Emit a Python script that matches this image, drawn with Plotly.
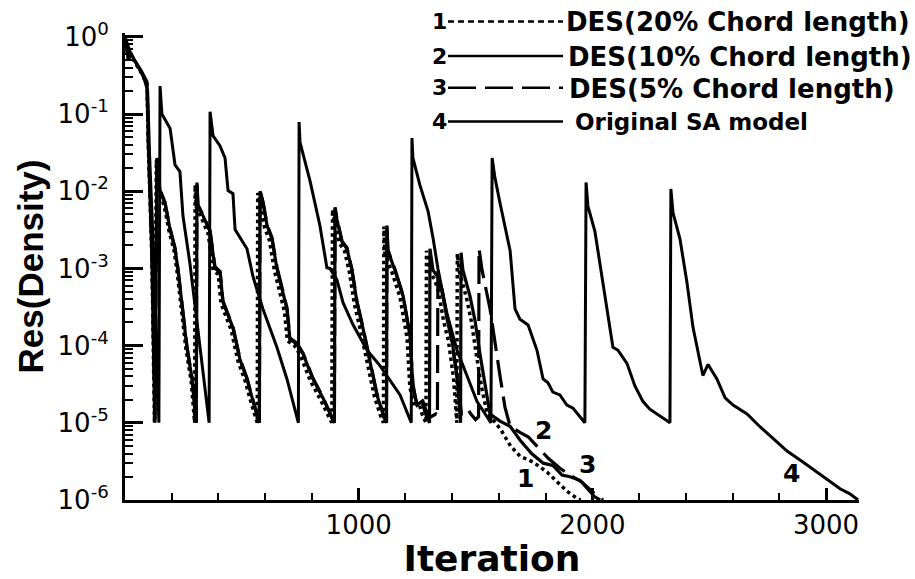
import plotly.graph_objects as go
import numpy as np

# ---------------- data (iteration, residual) ----------------
SA_POINTS = [
    (0, 1.0), (10, 0.8), (25, 0.6), (50, 0.45), (80, 0.3), (97, 0.2), (105, 0.03), (125, 1e-3), (145, 1e-5),
    (150, 0.23), (158, 0.1), (193, 0.065), (214, 0.022), (235, 0.018), (248, 4.8e-3), (278, 1.15e-3),
    (308, 2.1e-4), (334, 4.9e-5), (360, 1e-5),
    (364, 0.107), (377, 0.052), (406, 0.039), (428, 0.027), (441, 0.0102), (462, 9.3e-3), (471, 3.2e-3),
    (492, 2.5e-3), (522, 1.8e-3), (548, 7.8e-4), (590, 3e-4), (650, 9.5e-5), (693, 3.7e-5), (742, 1e-5),
    (745, 0.079), (749, 0.043), (792, 0.0135), (834, 3.6e-3), (864, 1.02e-3), (877, 1.0e-3), (907, 7.1e-4),
    (933, 3.6e-4), (976, 1.86e-4), (1036, 8.7e-5), (1091, 5.5e-5), (1177, 2.3e-5), (1225, 1e-5),
    (1228, 0.049), (1232, 0.027), (1262, 0.012), (1297, 5.5e-3), (1318, 2.5e-3), (1339, 1.0e-3),
    (1357, 5.3e-4), (1378, 2.6e-4), (1421, 8.7e-5), (1463, 4e-5), (1506, 1.9e-5), (1549, 1.2e-5), (1566, 1e-5),
    (1571, 0.027), (1583, 0.015), (1605, 7e-3), (1635, 2.7e-3), (1648, 1.7e-3), (1669, 3e-4), (1690, 2.2e-4),
    (1725, 1.85e-4), (1763, 8.7e-5), (1789, 3.7e-5), (1810, 3.3e-5), (1831, 2.5e-5), (1861, 2.3e-5),
    (1891, 1.7e-5), (1917, 1.55e-5), (1947, 1.2e-5), (1968, 1e-5),
    (1973, 0.013), (1981, 6.4e-3), (2011, 3e-3), (2041, 7.7e-4), (2067, 2.5e-4), (2088, 9.5e-5), (2110, 8.7e-5),
    (2148, 5.9e-5), (2182, 3e-5), (2216, 1.9e-5), (2246, 1.5e-5), (2276, 1.3e-5), (2298, 1.2e-5), (2332, 1e-5),
    (2336, 0.0107), (2345, 5.3e-3), (2375, 2.4e-3), (2405, 6.5e-4), (2431, 1.7e-4), (2461, 5.9e-5),
    (2473, 4.1e-5), (2495, 5.7e-5), (2533, 3.7e-5), (2568, 2.1e-5), (2602, 1.7e-5), (2662, 1.3e-5),
    (2717, 8.9e-6), (2773, 6.3e-6), (2833, 4.3e-6), (2901, 3.1e-6), (2961, 2.3e-6), (3017, 1.7e-6),
    (3060, 1.4e-6), (3102, 1.2e-6), (3137, 1.0e-6),
]

DES10_POINTS = [
    (0, 1.0), (8, 0.7), (15, 0.5), (25, 0.62), (40, 0.5), (70, 0.35), (94, 0.25), (100, 0.04), (115, 1.5e-3), (128, 1e-5),
    (137, 0.026), (150, 0.0102), (171, 7e-3), (193, 3.2e-3), (214, 1.8e-3), (227, 9.5e-4), (244, 3.6e-4),
    (265, 9.5e-5), (287, 3.7e-5), (305, 1e-5),
    (308, 0.013), (312, 6.5e-3), (334, 4.8e-3), (364, 3e-3), (385, 1.0e-3), (407, 8.9e-4), (419, 3.7e-4),
    (441, 2.5e-4), (462, 1.7e-4), (492, 6.6e-5), (522, 3.7e-5), (548, 1.9e-5), (575, 1e-5),
    (578, 0.01), (591, 7e-3), (608, 3.6e-3), (629, 2.4e-3), (650, 1.0e-3), (672, 5.3e-4), (693, 3e-4),
    (706, 1.2e-4), (736, 1.05e-4), (762, 7.8e-5), (804, 3.7e-5), (847, 2.1e-5), (896, 1e-5),
    (899, 6e-3), (907, 4.3e-3), (929, 2.2e-3), (950, 1.8e-3), (971, 9.5e-4), (993, 3.6e-4), (1018, 1.7e-4),
    (1048, 6.6e-5), (1078, 2.3e-5), (1104, 1.3e-5), (1119, 1e-5),
    (1121, 3.6e-3), (1125, 1.7e-3), (1155, 9.5e-4), (1190, 4.4e-4), (1220, 1.3e-4), (1232, 3e-5),
    (1250, 1.7e-5), (1271, 1.9e-5), (1284, 1.35e-5), (1303, 1e-5),
    (1305, 1.8e-3), (1318, 9.5e-4), (1339, 7.7e-4), (1357, 5.3e-4), (1378, 2.2e-4), (1399, 1.2e-4),
    (1421, 4e-5), (1436, 1e-5),
    (1438, 1.6e-3), (1446, 9.5e-4), (1476, 4.4e-4), (1498, 2.1e-4), (1519, 7.8e-5), (1541, 3e-5), (1562, 1.3e-5),
    (1605, 1.05e-5), (1648, 9e-6), (1690, 6e-6), (1740, 4e-6), (1790, 3e-6), (1831, 2.8e-6), (1870, 2.1e-6),
    (1904, 2.0e-6), (1947, 1.8e-6), (1980, 1.4e-6), (2010, 1.1e-6), (2033, 1e-6),
]

DES20_POINTS = [
    (0, 1.0), (8, 0.68), (15, 0.5), (25, 0.6), (40, 0.48), (70, 0.34), (94, 0.24), (100, 0.038), (115, 1.4e-3), (126, 1e-5),
    (134, 0.025), (146, 0.0098), (167, 6.6e-3), (189, 3.0e-3), (210, 1.7e-3), (223, 9e-4), (240, 3.4e-4),
    (261, 9e-5), (283, 3.5e-5), (298, 1e-5),
    (300, 0.012), (305, 6.2e-3), (326, 4.6e-3), (356, 2.8e-3), (377, 9.5e-4), (399, 8.4e-4), (411, 3.5e-4),
    (433, 2.4e-4), (454, 1.6e-4), (484, 6.2e-5), (514, 3.5e-5), (540, 1.8e-5), (566, 1e-5),
    (568, 0.0095), (580, 6.6e-3), (597, 3.4e-3), (618, 2.3e-3), (639, 9.5e-4), (661, 5e-4), (682, 2.8e-4),
    (695, 1.15e-4), (725, 1.0e-4), (751, 7.4e-5), (793, 3.5e-5), (836, 2e-5), (885, 1e-5),
    (888, 5.8e-3), (896, 4.1e-3), (918, 2.1e-3), (939, 1.7e-3), (960, 9e-4), (982, 3.4e-4), (1007, 1.6e-4),
    (1037, 6.2e-5), (1067, 2.2e-5), (1093, 1.25e-5), (1106, 1e-5),
    (1108, 3.5e-3), (1112, 1.6e-3), (1142, 9e-4), (1177, 4.2e-4), (1207, 1.25e-4), (1219, 2.9e-5),
    (1237, 1.6e-5), (1258, 1.8e-5), (1271, 1.3e-5), (1288, 1e-5),
    (1290, 1.7e-3), (1303, 9e-4), (1324, 7.3e-4), (1342, 5e-4), (1363, 2.1e-4), (1384, 1.15e-4),
    (1406, 3.8e-5), (1420, 1e-5),
    (1422, 1.55e-3), (1431, 9e-4), (1461, 4.2e-4), (1483, 2e-4), (1504, 7.4e-5), (1526, 2.9e-5), (1550, 1.3e-5),
    (1580, 1.05e-5), (1610, 8e-6), (1650, 5e-6), (1690, 3.7e-6), (1746, 3.1e-6), (1806, 2.3e-6),
    (1849, 1.7e-6), (1891, 1.3e-6), (1934, 1.05e-6), (1950, 1e-6),
]

DES5_POINTS = [
    (0, 1.0), (8, 0.72), (15, 0.52), (25, 0.63), (40, 0.5), (70, 0.36), (94, 0.26), (100, 0.042), (115, 1.6e-3), (128, 1e-5),
    (137, 0.027), (150, 0.0105), (171, 7.2e-3), (193, 3.3e-3), (214, 1.85e-3), (227, 9.8e-4), (244, 3.7e-4),
    (265, 9.8e-5), (287, 3.8e-5), (305, 1e-5),
    (308, 0.0135), (312, 6.7e-3), (334, 4.9e-3), (364, 3.1e-3), (385, 1.05e-3), (407, 9.1e-4), (419, 3.8e-4),
    (441, 2.6e-4), (462, 1.75e-4), (492, 6.8e-5), (522, 3.8e-5), (548, 1.95e-5), (575, 1e-5),
    (578, 0.0102), (591, 7.2e-3), (608, 3.7e-3), (629, 2.5e-3), (650, 1.05e-3), (672, 5.5e-4), (693, 3.1e-4),
    (706, 1.25e-4), (736, 1.08e-4), (762, 8e-5), (804, 3.8e-5), (847, 2.15e-5), (896, 1e-5),
    (899, 6.2e-3), (907, 4.4e-3), (929, 2.25e-3), (950, 1.85e-3), (971, 9.8e-4), (993, 3.7e-4), (1018, 1.75e-4),
    (1048, 6.8e-5), (1078, 2.4e-5), (1104, 1.35e-5), (1119, 1e-5),
    (1121, 3.7e-3), (1125, 1.75e-3), (1155, 9.8e-4), (1190, 4.5e-4), (1220, 1.35e-4), (1232, 3.2e-5),
    (1250, 1.6e-5), (1262, 1.8e-5), (1275, 1.9e-5), (1290, 1.4e-5), (1310, 1.2e-5), (1330, 1.3e-5), (1337, 1.2e-5),
    (1339, 9.5e-4), (1350, 6e-4), (1378, 2.5e-4), (1399, 1.1e-4), (1421, 4e-5), (1440, 1.3e-5), (1456, 1.35e-5),
    (1467, 1.5e-5), (1480, 1.3e-5), (1500, 1.1e-5), (1513, 1.2e-5),
    (1515, 1.8e-3), (1528, 9.5e-4), (1562, 3e-4), (1583, 1.05e-4), (1605, 4e-5), (1626, 1.6e-5), (1648, 9e-6),
    (1690, 7.5e-6), (1725, 6.6e-6), (1810, 3.5e-6), (1860, 2.6e-6), (1904, 2.1e-6), (1956, 1.7e-6),
    (2011, 1.2e-6), (2046, 1e-6),
]

LEGEND_NUMBERS = ["1", "2", "3", "4"]
LEGEND_LABELS = ["DES(20% Chord length)", "DES(10% Chord length)", "DES(5% Chord length)", "Original SA model"]

# curve tags placed at (iteration, residual)
CURVE_TAGS = [("1", 1712, 1.9e-6), ("2", 1793, 7.9e-6), ("3", 1981, 2.9e-6), ("4", 2854, 2.2e-6)]

Y_TICKS = [1e-6, 1e-5, 1e-4, 1e-3, 1e-2, 1e-1, 1.0]
Y_TICK_TEXT = ["10<sup>-6</sup>", "10<sup>-5</sup>", "10<sup>-4</sup>", "10<sup>-3</sup>",
               "10<sup>-2</sup>", "10<sup>-1</sup>", "10<sup>0</sup>"]
X_TICKS = [1000, 2000, 3000]
X_TICK_TEXT = ["1000", "2000", "3000"]
X_MINOR = [200, 400, 600, 800, 1200, 1400, 1600, 1800, 2200, 2400, 2600, 2800]
Y_MINOR = [k * 10.0 ** e for e in range(-6, 0) for k in range(2, 10)]

X_TITLE = "Iteration"
Y_TITLE = "Res(Density)"

# ---------------- styles ----------------
STYLE = {
    "DES20": dict(width=3.5, dash="dot"),
    "DES10": dict(width=3.2, dash="solid"),
    "DES5": dict(width=3.2, dash="28px,9px"),
    "SA": dict(width=3, dash="solid"),
}

fig = go.Figure()


def add(points, key, name):
    xs, ys = zip(*points)
    fig.add_trace(go.Scatter(x=list(xs), y=list(ys), mode="lines", name=name,
                             line=dict(color="black", **STYLE[key]), showlegend=False))


add(SA_POINTS, "SA", LEGEND_LABELS[3])
add(DES5_POINTS, "DES5", LEGEND_LABELS[2])
add(DES20_POINTS, "DES20", LEGEND_LABELS[0])
add(DES10_POINTS, "DES10", LEGEND_LABELS[1])

# plot area in pixels
L, R, T, B = 125, 859, 33, 519
W, H = 915, 579


def pxx(p):
    return (p - L) / (R - L)


def pxy(p):
    return (B - p) / (B - T)


# ---------- Tecplot-like legend (numbers, line samples, text) ----------
rows_y = [21, 57, 90, 125]
text_x = [564, 566, 567, 573]
text_sizes = [26, 26, 26, 23]
keys = ["DES20", "DES10", "DES5", "SA"]
shapes = []
annotations = []
for i in range(4):
    yy = rows_y[i]
    annotations.append(dict(xref="paper", yref="paper", x=pxx(439), y=pxy(yy), text=LEGEND_NUMBERS[i],
                            showarrow=False, xanchor="center", yanchor="middle",
                            font=dict(family="DejaVu Sans", size=22, color="black", weight="bold")))
    shapes.append(dict(type="line", xref="paper", yref="paper", x0=pxx(448), x1=pxx(563),
                       y0=pxy(yy), y1=pxy(yy),
                       line=dict(color="black", width=2.5,
                                 dash=STYLE[keys[i]]["dash"] if keys[i] != "DES20" else "6px,4px")))
    annotations.append(dict(xref="paper", yref="paper", x=pxx(text_x[i]), y=pxy(yy + 1), text=LEGEND_LABELS[i],
                            showarrow=False, xanchor="left", yanchor="middle",
                            font=dict(family="DejaVu Sans", size=text_sizes[i], color="black", weight="bold")))

for tag, xi, yv in CURVE_TAGS:
    annotations.append(dict(xref="x", yref="y", x=xi, y=np.log10(yv), text=tag, showarrow=False,
                            xanchor="center", yanchor="middle",
                            font=dict(family="DejaVu Sans", size=25, color="black", weight="bold")))

fig.update_layout(
    width=W, height=H,
    margin=dict(l=L, r=W - R, t=T, b=H - B, pad=0),
    paper_bgcolor="white", plot_bgcolor="white",
    shapes=shapes, annotations=annotations,
    xaxis=dict(
        range=[0, 3141], showgrid=False, zeroline=False,
        showline=True, linecolor="black", linewidth=3,
        ticks="inside", ticklen=12, tickwidth=2.5, tickcolor="black",
        tickmode="array", tickvals=X_TICKS, ticktext=X_TICK_TEXT,
        tickfont=dict(family="DejaVu Sans", size=26, color="black"),
        minor=dict(ticks="inside", ticklen=7, tickwidth=1.5, tickcolor="black", tickvals=X_MINOR, showgrid=False),
        title=dict(text=X_TITLE, standoff=2,
                   font=dict(family="DejaVu Sans", size=36, color="black", weight="bold")),
    ),
    yaxis=dict(
        type="log", range=[-6, 0.05], showgrid=False, zeroline=False,
        showline=True, linecolor="black", linewidth=3,
        ticks="inside", ticklen=18, tickwidth=2.5, tickcolor="black",
        tickmode="array", tickvals=Y_TICKS, ticktext=Y_TICK_TEXT, ticklabelstandoff=8,
        tickfont=dict(family="DejaVu Sans", size=26, color="black"),
        minor=dict(ticks="inside", ticklen=8, tickwidth=1.5, tickcolor="black", tickvals=Y_MINOR, showgrid=False),
        title=dict(text=Y_TITLE, standoff=4,
                   font=dict(family="Liberation Sans", size=35, color="black", weight="bold")),
    ),
)

fig.write_html("out.html")
